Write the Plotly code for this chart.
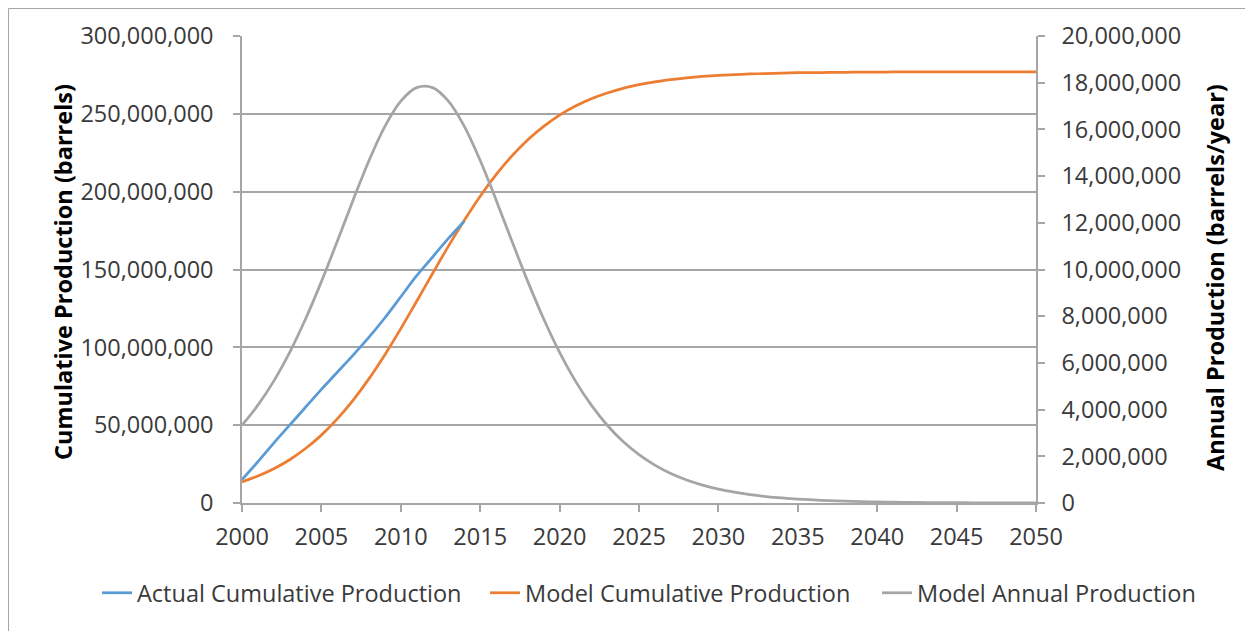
import plotly.graph_objects as go

# ---- data ----
years = list(range(2000, 2051))

actual_years = list(range(2000, 2015))
actual_cum = [15.0e6, 26.5e6, 38.5e6, 50.0e6, 61.5e6, 73.0e6, 84.0e6, 95.0e6,
              106.5e6, 119.0e6, 132.5e6, 146.0e6, 158.0e6, 170.0e6, 181.0e6]

model_cum = [13.6e6, 17.3e6, 22.0e6, 27.8e6, 35.0e6, 43.6e6, 54.0e6, 66.1e6,
             79.9e6, 95.3e6, 112.0e6, 129.6e6, 147.4e6, 165.0e6, 181.6e6, 197.1e6,
             210.9e6, 223.0e6, 233.4e6, 242.0e6, 249.2e6, 255.0e6, 259.7e6, 263.4e6,
             266.4e6, 268.7e6, 270.6e6, 272.0e6, 273.1e6, 274.0e6, 274.7e6, 275.2e6,
             275.6e6, 275.9e6, 276.2e6, 276.4e6, 276.5e6, 276.6e6, 276.7e6, 276.8e6,
             276.8e6, 276.9e6, 276.9e6, 276.9e6, 276.9e6, 276.9e6, 276.9e6, 276.9e6,
             276.9e6, 276.9e6, 276.9e6]

model_annual = [3.33e6, 4.19e6, 5.22e6, 6.45e6, 7.88e6, 9.48e6, 11.21e6, 12.98e6,
                14.67e6, 16.13e6, 17.21e6, 17.79e6, 17.79e6, 17.21e6, 16.13e6, 14.67e6,
                12.98e6, 11.21e6, 9.48e6, 7.88e6, 6.45e6, 5.22e6, 4.19e6, 3.33e6,
                2.63e6, 2.07e6, 1.62e6, 1.26e6, 0.985e6, 0.766e6, 0.596e6, 0.464e6,
                0.359e6, 0.278e6, 0.215e6, 0.166e6, 0.129e6, 0.099e6, 0.077e6, 0.059e6,
                0.046e6, 0.036e6, 0.028e6, 0.021e6, 0.016e6, 0.013e6, 0.010e6, 0.0075e6,
                0.0058e6, 0.0045e6, 0.0035e6]

x_ticks = list(range(2000, 2051, 5))

names = ["Actual Cumulative Production", "Model Cumulative Production",
         "Model Annual Production"]
colors = ["#5B9BD5", "#ED7D31", "#A5A5A5"]

FONT = "Open Sans"
FS = 23.5
TICKCOL = "#3a3a3a"
GRID = "#a6a6a6"

# figure geometry (page has an 8px body margin)
W, H = 1245, 623
L, R, T, B = 234, 217, 28, 128
PW = W - L - R
PH = H - T - B


def px_x(p):
    return (p - L) / PW


def px_y(p):
    return (H - B - p) / PH


fig = go.Figure()
fig.add_trace(go.Scatter(x=years, y=model_annual, name=names[2], mode="lines",
                         line=dict(color=colors[2], width=2.75, shape="spline"),
                         yaxis="y2", legend="legend3"))
fig.add_trace(go.Scatter(x=years, y=model_cum, name=names[1], mode="lines",
                         line=dict(color=colors[1], width=2.75, shape="spline"),
                         legend="legend2"))
fig.add_trace(go.Scatter(x=actual_years, y=actual_cum, name=names[0], mode="lines",
                         line=dict(color=colors[0], width=2.75, shape="spline"),
                         legend="legend"))

leg_common = dict(orientation="h", xanchor="left", yanchor="middle", y=px_y(585),
                  font=dict(family=FONT, size=FS, color=TICKCOL),
                  bgcolor="rgba(0,0,0,0)", borderwidth=0)

fig.update_layout(
    width=W, height=H,
    margin=dict(l=L, r=R, t=T, b=B),
    paper_bgcolor="white", plot_bgcolor="white",
    font=dict(family=FONT, size=FS, color=TICKCOL),
    showlegend=True,
    legend=dict(x=px_x(129 - 40), **leg_common),
    legend2=dict(x=px_x(517 - 40), **leg_common),
    legend3=dict(x=px_x(909 - 40), **leg_common),
    xaxis=dict(range=[2000, 2050], tickvals=x_ticks, showgrid=False, zeroline=False,
               showline=True, linecolor=GRID, linewidth=1.5,
               ticks="outside", ticklen=7, tickcolor=GRID, tickwidth=1.5,
               ticklabelstandoff=5,
               tickfont=dict(family=FONT, size=FS, color=TICKCOL)),
    yaxis=dict(range=[0, 300e6], dtick=50e6, tickformat=",d", showgrid=True,
               gridcolor=GRID, gridwidth=1.5, zeroline=False,
               showline=True, linecolor=GRID, linewidth=1.5,
               ticks="outside", ticklen=7, tickcolor=GRID, tickwidth=1.5,
               ticklabelstandoff=15,
               tickfont=dict(family=FONT, size=FS, color=TICKCOL)),
    yaxis2=dict(range=[0, 20e6], dtick=2e6, tickformat=",d", overlaying="y",
                side="right", showgrid=False, zeroline=False,
                showline=True, linecolor=GRID, linewidth=1.5,
                ticks="outside", ticklen=7, tickcolor=GRID, tickwidth=1.5,
                ticklabelstandoff=12,
                tickfont=dict(family=FONT, size=FS, color=TICKCOL)),
    annotations=[
        dict(text="<b>Cumulative Production (barrels)</b>", xref="paper", yref="paper",
             x=px_x(55), y=px_y(264), xanchor="center", yanchor="middle", textangle=-90,
             showarrow=False, font=dict(family=FONT, size=FS, color="#000000")),
        dict(text="<b>Annual Production (barrels/year)</b>", xref="paper", yref="paper",
             x=px_x(1207), y=px_y(270), xanchor="center", yanchor="middle", textangle=-90,
             showarrow=False, font=dict(family=FONT, size=FS, color="#000000")),
    ],
    shapes=[
        dict(type="rect", xref="paper", yref="paper",
             x0=px_x(0.5), x1=px_x(1243), y0=px_y(640), y1=px_y(0.5),
             line=dict(color="#a6a6a6", width=1), fillcolor="rgba(0,0,0,0)",
             layer="below"),
    ],
)

fig.write_html("out.html")
